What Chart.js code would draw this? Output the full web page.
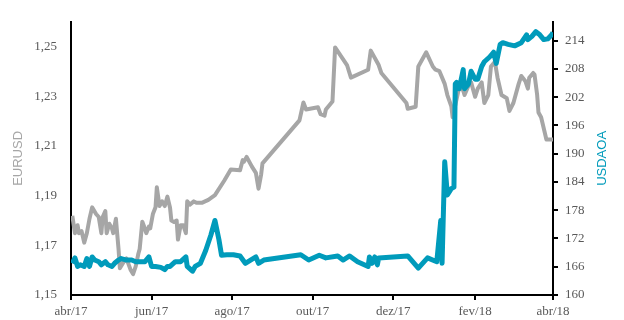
<!DOCTYPE html>
<html>
<head>
<meta charset="utf-8">
<script src="https://cdn.jsdelivr.net/npm/chart.js@4.4.1/dist/chart.umd.min.js"></script>
<style>
  html, body { margin: 0; padding: 0; background: #fff; }
  canvas { display: block; }
</style>
</head>
<body>
<canvas id="myChart" width="624" height="320"></canvas>
<script>
// EURUSD (left axis) vs USDAOA (right axis), abr/17 - abr/18

const eurDates = [
    '2017-04-02','2017-04-04','2017-04-06','2017-04-07','2017-04-09','2017-04-11','2017-04-13','2017-04-15',
    '2017-04-17','2017-04-20','2017-04-22','2017-04-24','2017-04-25','2017-04-27','2017-04-28','2017-04-30',
    '2017-05-02','2017-05-03','2017-05-05','2017-05-07','2017-05-08','2017-05-11','2017-05-13','2017-05-16',
    '2017-05-18','2017-05-20','2017-05-22','2017-05-23','2017-05-25','2017-05-26','2017-05-28','2017-05-30',
    '2017-05-31','2017-06-02','2017-06-04','2017-06-05','2017-06-07','2017-06-09','2017-06-11','2017-06-13',
    '2017-06-15','2017-06-16','2017-06-18','2017-06-20','2017-06-21','2017-06-23','2017-06-25','2017-06-27',
    '2017-06-28','2017-06-30','2017-07-03','2017-07-05','2017-07-09','2017-07-14','2017-07-19','2017-07-26',
    '2017-07-31','2017-08-07','2017-08-09','2017-08-10','2017-08-12','2017-08-16','2017-08-19','2017-08-21',
    '2017-08-23','2017-08-24','2017-09-21','2017-09-24','2017-09-26','2017-10-05','2017-10-07','2017-10-10',
    '2017-10-11','2017-10-16','2017-10-18','2017-10-27','2017-10-30','2017-11-12','2017-11-14','2017-11-20',
    '2017-11-22','2017-12-11','2017-12-12','2017-12-18','2017-12-20','2017-12-26','2017-12-31','2018-01-02',
    '2018-01-05','2018-01-09','2018-01-11','2018-01-14','2018-01-15','2018-01-20','2018-01-23','2018-01-24',
    '2018-01-27','2018-01-29','2018-02-01','2018-02-03','2018-02-06','2018-02-08','2018-02-11','2018-02-13',
    '2018-02-16','2018-02-18','2018-02-21','2018-02-25','2018-02-27','2018-03-02','2018-03-06','2018-03-08',
    '2018-03-11','2018-03-13','2018-03-14','2018-03-17','2018-03-18','2018-03-20','2018-03-21','2018-03-23',
    '2018-03-27','2018-03-30','2018-04-01'
];
const eurValues = [
    1.1819,1.1749,1.1781,1.1749,1.1757,1.1711,1.1749,1.1807,
    1.1853,1.1826,1.1814,1.1749,1.1814,1.1838,1.1749,1.1787,
    1.1768,1.1749,1.1807,1.1685,1.1608,1.1634,1.1647,1.1603,
    1.1584,1.1615,1.1666,1.1685,1.1795,1.1781,1.1749,1.1776,
    1.1768,1.1826,1.1853,1.1934,1.1858,1.1877,1.1858,1.1896,
    1.1851,1.1800,1.1794,1.1800,1.1723,1.1781,1.1781,1.1749,
    1.1877,1.1864,1.1877,1.1871,1.1871,1.1883,1.1902,1.1960,
    1.2005,1.2002,1.2043,1.2037,1.2056,1.2017,1.1992,1.1928,
    1.1986,1.2030,1.2203,1.2275,1.2247,1.2256,1.2228,1.2222,
    1.2247,1.2279,1.2497,1.2426,1.2375,1.2407,1.2484,1.2426,
    1.2394,1.2273,1.2250,1.2258,1.2420,1.2477,1.2420,1.2407,
    1.2401,1.2350,1.2305,1.2260,1.2216,1.2337,1.2324,1.2305,
    1.2343,1.2356,1.2298,1.2331,1.2356,1.2273,1.2305,1.2420,
    1.2439,1.2375,1.2305,1.2292,1.2241,1.2273,1.2350,1.2382,
    1.2362,1.2331,1.2375,1.2394,1.2388,1.2305,1.2235,1.2216,
    1.2126,1.2126,1.2126
];

const aoaDates = [
    '2017-04-02','2017-04-04','2017-04-06','2017-04-08','2017-04-11','2017-04-13','2017-04-15','2017-04-17',
    '2017-04-19','2017-04-22','2017-04-24','2017-04-27','2017-04-29','2017-05-02','2017-05-04','2017-05-07',
    '2017-05-09','2017-05-13','2017-05-17','2017-05-20','2017-05-23','2017-05-27','2017-05-30','2017-06-01',
    '2017-06-04','2017-06-08','2017-06-11','2017-06-13','2017-06-15','2017-06-19','2017-06-23','2017-06-27',
    '2017-06-28','2017-07-02','2017-07-04','2017-07-08','2017-07-12','2017-07-16','2017-07-19','2017-07-22',
    '2017-07-24','2017-07-28','2017-08-02','2017-08-07','2017-08-11','2017-08-15','2017-08-19','2017-08-21',
    '2017-08-25','2017-09-22','2017-09-28','2017-10-06','2017-10-11','2017-10-20','2017-10-24','2017-10-29',
    '2017-11-04','2017-11-12','2017-11-13','2017-11-15','2017-11-17','2017-11-19','2017-11-20','2017-12-12',
    '2017-12-20','2017-12-27','2018-01-03','2018-01-06','2018-01-07','2018-01-09','2018-01-11','2018-01-14',
    '2018-01-16','2018-01-17','2018-01-18','2018-01-20','2018-01-23','2018-01-24','2018-01-27','2018-01-29',
    '2018-02-01','2018-02-03','2018-02-06','2018-02-08','2018-02-12','2018-02-15','2018-02-17','2018-02-20',
    '2018-02-22','2018-02-26','2018-03-03','2018-03-08','2018-03-12','2018-03-13','2018-03-16','2018-03-19',
    '2018-03-22','2018-03-25','2018-03-28','2018-03-31','2018-04-01'
];
const aoaValues = [
    166.73,167.88,166.06,166.41,166.06,167.74,166.06,168.08,
    167.42,167.07,166.41,167.07,166.41,166.06,166.73,167.42,
    167.74,167.42,167.42,167.07,167.07,167.07,168.08,166.06,
    166.06,165.86,165.40,166.06,166.06,167.07,167.07,168.08,
    166.06,165.05,166.06,166.73,169.44,172.79,175.82,171.78,
    168.43,168.55,168.55,168.29,166.73,167.42,168.08,166.73,
    167.42,168.55,167.42,168.43,167.88,168.29,167.42,168.29,
    167.07,166.06,168.08,166.73,168.08,166.41,167.88,168.29,
    165.72,167.88,167.07,175.82,166.73,188.29,181.22,182.57,
    182.90,204.81,205.13,203.80,207.84,203.80,204.81,207.49,
    205.82,205.82,208.50,209.52,210.53,211.54,209.17,213.21,
    213.56,213.21,212.89,213.56,215.24,214.22,214.91,215.92,
    215.24,214.22,214.37,215.24,215.72
];

// axis ticks
const monthTicks = ['2017-04-01','2017-06-01','2017-08-01','2017-10-01','2017-12-01','2018-02-01','2018-04-01'];
const monthLabels = ['abr/17','jun/17','ago/17','out/17','dez/17','fev/18','abr/18'];
const eurTicks = [1.15, 1.17, 1.19, 1.21, 1.23, 1.25];
const aoaTicks = [160, 166, 172, 178, 184, 190, 196, 202, 208, 214];

const GREY = '#a6a6a6';
const TEAL = '#009bbb';
const TICK_FONT = { family: '"Liberation Serif", "Times New Roman", serif', size: 13 };

// days since 1 abr 2017
const start = Date.UTC(2017, 3, 1);
function dayOf(s) {
    const [y, m, d] = s.split('-').map(Number);
    return (Date.UTC(y, m - 1, d) - start) / 864e5;
}

// 1. Axis titles (both read bottom to top)
const axisTitles = {
    id: 'axisTitles',
    afterDraw(chart) {
        const ctx = chart.ctx;
        const midY = (chart.chartArea.top + chart.chartArea.bottom) / 2;
        const draw = (text, x, color) => {
            ctx.save();
            ctx.translate(x, midY);
            ctx.rotate(-Math.PI / 2);
            ctx.font = '13px "Liberation Sans", Arial, sans-serif';
            ctx.fillStyle = color;
            ctx.textAlign = 'center';
            ctx.textBaseline = 'middle';
            ctx.fillText(text, 0, 0);
            ctx.restore();
        };
        draw('EURUSD', 18, GREY);
        draw('USDAOA', 602, TEAL);
    }
};

// 2. Render chart
new Chart(document.getElementById('myChart'), {
    type: 'line',
    data: {
        datasets: [
            {
                label: 'EURUSD',
                data: eurDates.map((d, i) => ({ x: dayOf(d), y: eurValues[i] })),
                yAxisID: 'yL',
                borderColor: GREY,
                borderWidth: 4,
                pointRadius: 0,
                tension: 0,
                borderJoinStyle: 'round',
                order: 2
            },
            {
                label: 'USDAOA',
                data: aoaDates.map((d, i) => ({ x: dayOf(d), y: aoaValues[i] })),
                yAxisID: 'yR',
                borderColor: TEAL,
                borderWidth: 5,
                pointRadius: 0,
                tension: 0,
                borderJoinStyle: 'round',
                order: 1
            }
        ]
    },
    options: {
        responsive: false,
        animation: false,
        layout: { padding: { top: 8, left: 0, right: 0, bottom: 0 } },
        plugins: {
            legend: { display: false },
            tooltip: { enabled: false }
        },
        scales: {
            x: {
                type: 'linear',
                min: 0,
                max: dayOf('2018-04-01'),
                afterBuildTicks: s => { s.ticks = monthTicks.map(d => ({ value: dayOf(d) })); },
                afterFit: s => { s.height = 25; },
                ticks: {
                    autoSkip: false,
                    maxRotation: 0,
                    padding: 4,
                    color: '#595959',
                    font: TICK_FONT,
                    callback: (v, i) => monthLabels[i]
                },
                grid: { drawOnChartArea: false, drawTicks: true, tickLength: 5, color: '#000', lineWidth: 2 },
                border: { display: true, color: '#000', width: 2 }
            },
            yL: {
                type: 'linear',
                position: 'left',
                min: 1.15,
                max: 1.26,
                afterBuildTicks: s => { s.ticks = eurTicks.map(v => ({ value: v })); },
                afterFit: s => { s.width = 71; },
                ticks: {
                    padding: 14,
                    color: '#595959',
                    font: TICK_FONT,
                    callback: v => v.toFixed(2).replace('.', ',')
                },
                grid: { drawOnChartArea: false, drawTicks: false },
                border: { display: true, color: '#000', width: 2 }
            },
            yR: {
                type: 'linear',
                position: 'right',
                min: 160,
                max: 218,
                afterBuildTicks: s => { s.ticks = aoaTicks.map(v => ({ value: v })); },
                afterFit: s => { s.width = 71; },
                ticks: {
                    padding: 7,
                    color: '#595959',
                    font: TICK_FONT,
                    callback: v => v
                },
                grid: { drawOnChartArea: false, drawTicks: true, tickLength: 5, color: '#000', lineWidth: 2 },
                border: { display: true, color: '#000', width: 2 }
            }
        }
    },
    plugins: [axisTitles]
});
</script>
</body>
</html>
